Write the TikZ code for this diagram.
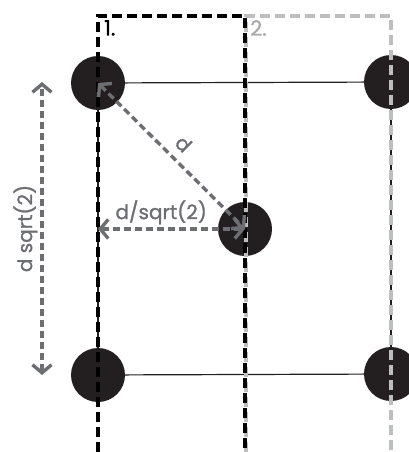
\documentclass[tikz,border=0pt]{standalone}
\usepackage{fontspec}
\setmainfont{Poppins}[UprightFeatures={FakeBold=1.2}]
\usetikzlibrary{arrows.meta}
\definecolor{atomcol}{HTML}{231F20}
\definecolor{arrowgray}{HTML}{6D6E71}
\definecolor{boxgray}{HTML}{BCBEC0}
\definecolor{labelgray}{HTML}{A7A9AC}
\begin{document}
\begin{tikzpicture}[x=1pt, y=-1pt,
        atom/.style={circle, fill=atomcol, minimum size=54pt, inner sep=0pt},
        bond/.style={draw=atomcol, line width=1.2pt},
        cellbox/.style={line width=3.2pt, dash pattern=on 10pt off 5pt},
        measure/.style={draw=arrowgray, line width=3.4pt, dash pattern=on 7pt off 4pt,
            {Straight Barb[length=8pt,width=19pt]}-{Straight Barb[length=8pt,width=19pt]}},
        lbl/.style={font=\fontsize{20}{22}\selectfont, text=arrowgray, inner sep=3pt}]
        \useasboundingbox (0,0) rectangle (409,452);

        \node(tl)[atom] at (98,83) {};
        \node(tr)[atom] at (391,82) {};
        \node(bl)[atom] at (98,375) {};
        \node(br)[atom] at (391,374) {};
        \node(c)[atom] at (245,229) {};

        \draw[bond] (tl) -- (tr);
        \draw[bond] (bl) -- (br);
        \draw[bond] (tl) -- (bl);
        \draw[bond] (tr) -- (br);

        \draw[cellbox, draw=boxgray] (246,452) -- (246,16) -- (391,16) -- (391,452);
        \draw[cellbox, draw=black] (98,452) -- (98,16) -- (245,16) -- (245,452);

        \node(one)[anchor=north west, inner sep=0pt, font=\fontsize{21}{22}\selectfont] at (104,20) {1.};
        \node(two)[anchor=north west, inner sep=0pt, font=\fontsize{21}{22}\selectfont, text=labelgray] at (250,20) {2.};

        \coordinate(lft) at (98,229);
        \coordinate(up) at (42,82);
        \coordinate(dn) at (42,375);

        \draw[measure] (tl.center) -- (c.center) node[midway, sloped, above=5pt, lbl] {d};
        \draw[measure] (lft) -- (c.center) node[pos=0.43, above, lbl] {d/sqrt(2)};
        \draw[measure] (dn) -- (up) node[midway, sloped, above, lbl] {d sqrt(2)};
    \end{tikzpicture}
\end{document}
